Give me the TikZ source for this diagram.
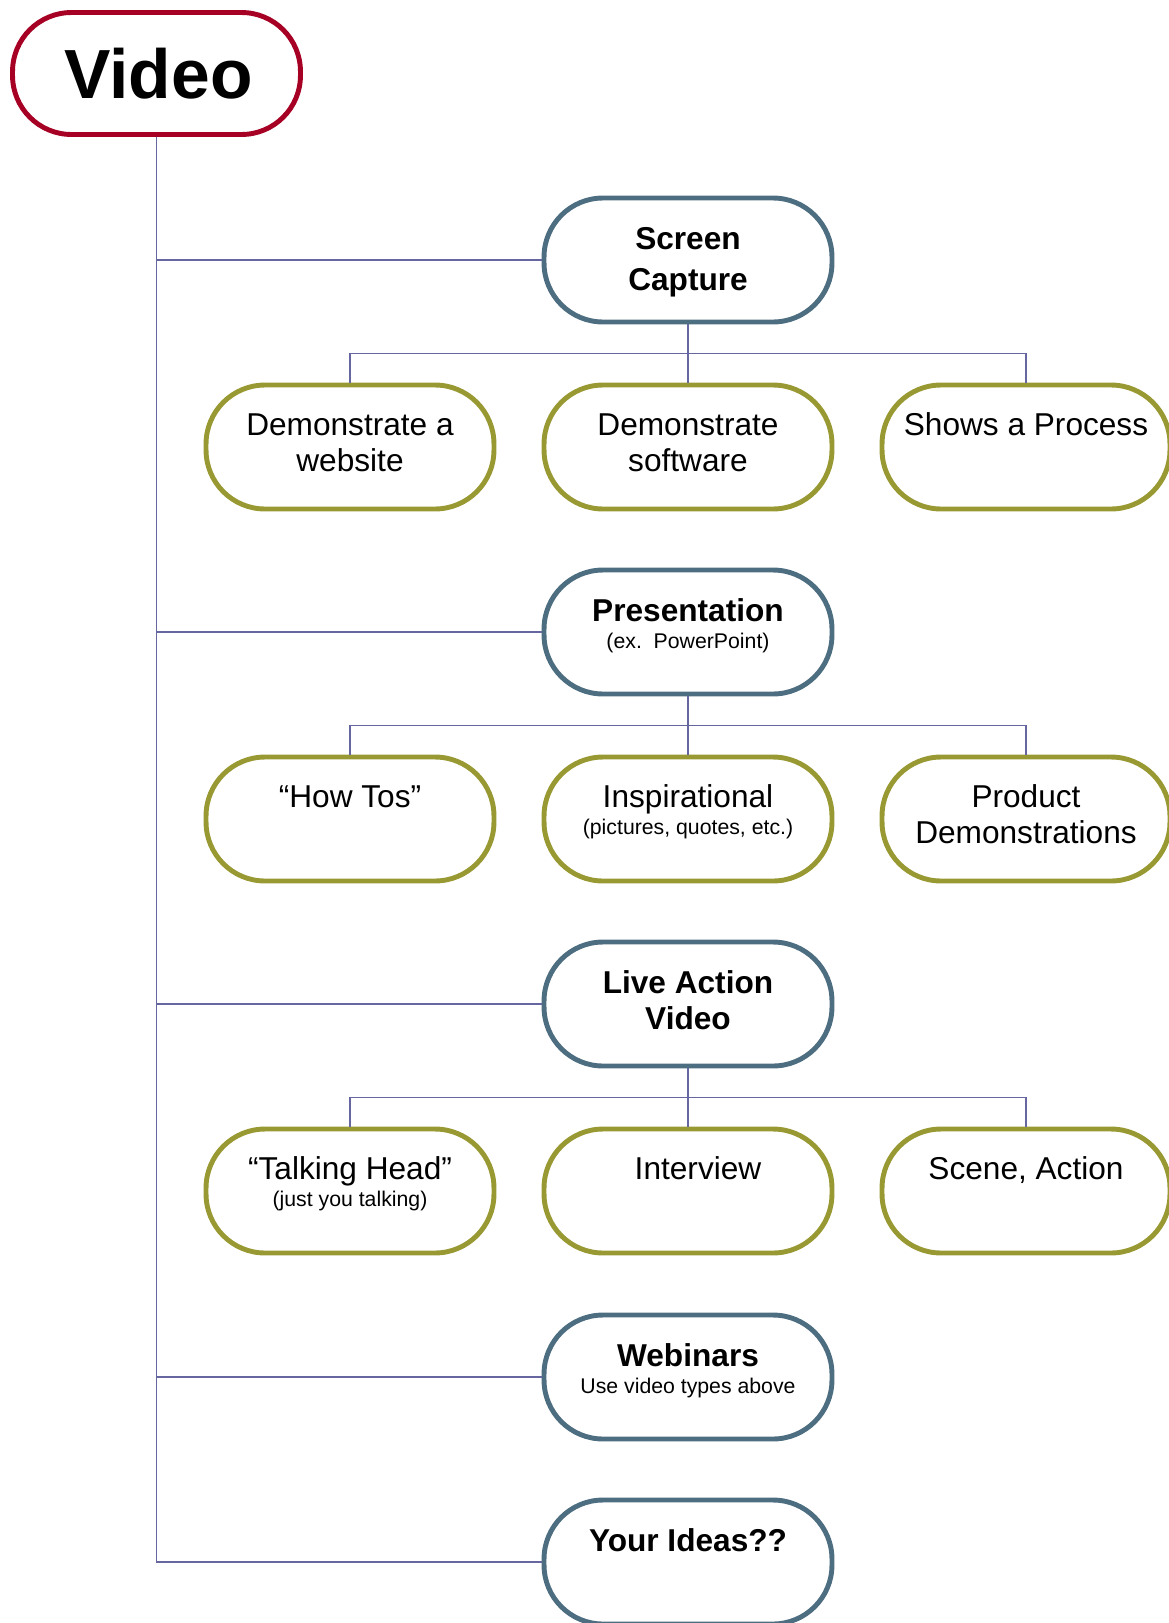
\documentclass[tikz,border=0pt]{standalone}
\usepackage{fontspec}
\setmainfont{Liberation Sans}
\usetikzlibrary{calc}

\definecolor{videored}{RGB}{166,0,36}
\definecolor{topicblue}{RGB}{77,109,128}
\definecolor{kindolive}{RGB}{153,153,51}
\definecolor{linkline}{RGB}{102,102,160}

\tikzset{
    pill/.style={draw, line width=2.8pt, fill=white, rounded corners=1.18cm, inner sep=0pt,
        text width=5.76cm, align=flush center, text height=1.0cm, text depth=1.48cm,
        font=\fontsize{18}{20.6}\selectfont},
    topic/.style={pill, draw=topicblue, text height=1.02cm, text depth=1.46cm,
        font=\fontsize{18}{20.6}\selectfont\bfseries},
    kind/.style={pill, draw=kindolive},
    link/.style={draw=linkline, line width=1.1pt}
}
\newcommand{\smalltxt}[1]{{\fontsize{12.1}{14}\selectfont\mdseries #1}}

\begin{document}
\begin{tikzpicture}[x=0.02cm, y=-0.02cm]
            \useasboundingbox (0, 0) rectangle (1169, 1623);
            \node[draw=videored, line width=2.8pt, rounded corners=1.18cm, minimum width=5.76cm, minimum height=2.44cm, inner sep=0pt, font=\fontsize{39.6}{44}\selectfont\bfseries] (video) at (156.5, 73.5) {\hspace*{0.08cm}Video};

            \node[topic] (scap) at (688, 260) {Screen\\[3pt]Capture};
            \node[topic] (pres) at (688, 632) {Presentation\\[-5pt]\smalltxt{(ex.~~PowerPoint)}};
            \node[topic] (live) at (688, 1004) {Live Action\\Video};
            \node[topic] (webi) at (688, 1377) {Webinars\\[-5pt]\smalltxt{Use video types above}};
            \node[topic] (ideas) at (688, 1562) {Your Ideas??};

            \node[kind] (demoweb) at (350, 447) {Demonstrate a\\website};
            \node[kind] (demosoft) at (688, 447) {Demonstrate\\software};
            \node[kind] (process) at (1026, 447) {Shows a Process};

            \node[kind] (howto) at (350, 819) {“How Tos”};
            \node[kind] (inspire) at (688, 819) {Inspirational\\[-5pt]\smalltxt{(pictures, quotes, etc.)}};
            \node[kind] (product) at (1026, 819) {Product\\Demonstrations};

            \node[kind] (head) at (350, 1191) {“Talking Head”\\[-5pt]\smalltxt{(just you talking)}};
            \node[kind] (interview) at (688, 1191) {\hspace*{0.4cm}Interview};
            \node[kind] (scene) at (1026, 1191) {Scene, Action};

            % trunk from Video to each topic
            \draw[link] (video.south) |- (scap.west);
            \draw[link] (video.south) |- (pres.west);
            \draw[link] (video.south) |- (live.west);
            \draw[link] (video.south) |- (webi.west);
            \draw[link] (video.south) |- (ideas.west);

            % topic to its three kinds
            \coordinate (scapbus) at ($(scap.south)!0.5!(demosoft.north)$);
            \draw[link] (scap.south) -- (demosoft.north);
            \draw[link] (demoweb.north) |- (scapbus) -| (process.north);

            \coordinate (presbus) at ($(pres.south)!0.5!(inspire.north)$);
            \draw[link] (pres.south) -- (inspire.north);
            \draw[link] (howto.north) |- (presbus) -| (product.north);

            \coordinate (livebus) at ($(live.south)!0.5!(interview.north)$);
            \draw[link] (live.south) -- (interview.north);
            \draw[link] (head.north) |- (livebus) -| (scene.north);
        \end{tikzpicture}
\end{document}
